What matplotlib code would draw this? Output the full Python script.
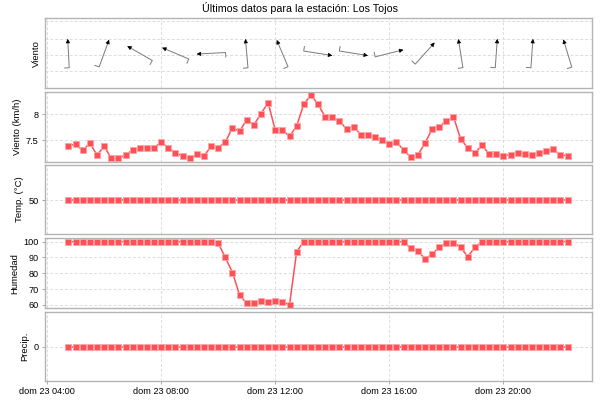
import numpy as np
import pandas as pd
import matplotlib
matplotlib.use("Agg")
import matplotlib.pyplot as plt
import matplotlib.dates as mdates
import matplotlib.transforms as mtransforms
from matplotlib.ticker import FuncFormatter

plt.rcParams["font.family"] = ["Liberation Sans", "DejaVu Sans"]

# readings every 15 min, Sunday 23
times = pd.date_range("2025-02-23 04:45", "2025-02-23 22:15", freq="15min")

wind_speed = [7.39, 7.42, 7.30, 7.44, 7.21, 7.38, 7.15, 7.15, 7.21, 7.31,
              7.35, 7.35, 7.35, 7.46, 7.35, 7.26, 7.19, 7.15, 7.23, 7.19,
              7.38, 7.35, 7.46, 7.74, 7.67, 7.89, 7.79, 8.01, 8.22, 7.69,
              7.69, 7.57, 7.77, 8.19, 8.37, 8.19, 7.95, 7.94, 7.87, 7.71,
              7.76, 7.60, 7.60, 7.56, 7.51, 7.42, 7.46, 7.31, 7.17, 7.21,
              7.44, 7.71, 7.76, 7.87, 7.95, 7.52, 7.35, 7.25, 7.40, 7.23,
              7.23, 7.20, 7.22, 7.26, 7.23, 7.21, 7.25, 7.29, 7.32, 7.21,
              7.20]

# direction the wind comes from (deg), one arrow every 5 readings
wind_dir = [177, 200, 120, 113, 87, 175, 157, 279, 279, 256, 222, 171, 184, 184, 163]

temperature = [50] * 71

humidity = [100] * 21 + [99, 90, 80.5, 66.3, 61, 61, 62.5, 62, 62.5, 62, 60, 93.7] \
    + [100] * 15 + [95.8, 94.3, 89, 92.2, 96.4, 99.4, 99.4, 96.4, 90.5, 96.4] \
    + [100] * 13

precip = [0] * 71

DIAS = ["lun", "mar", "mié", "jue", "vie", "sáb", "dom"]
RED = "#ff5055"


def fmt_date(x, pos=None):
    d = mdates.num2date(x)
    return "%s %02d %02d:%02d" % (DIAS[d.weekday()], d.day, d.hour, d.minute)


fig = plt.figure(figsize=(6, 4), dpi=100)
fig.text(0.5, 1 - 7.5 / 400, "Últimos datos para la estación: Los Tojos",
         ha="center", va="center", fontsize=7.7)

# panel rows in pixels (top, bottom)
rows = [(18.3, 88.3), (92.3, 161.7), (165, 234), (238.3, 308.3), (312.3, 381)]
left, right = 44.7 / 600, 592.3 / 600
axes = []
for i, (top, bot) in enumerate(rows):
    rect = [left, 1 - bot / 400, right - left, (bot - top) / 400]
    ax = fig.add_axes(rect, sharex=axes[0] if axes else None)
    axes.append(ax)

xmin = mdates.date2num(pd.Timestamp("2025-02-23 03:55"))
xmax = mdates.date2num(pd.Timestamp("2025-02-23 23:07"))

for ax in axes:
    for s in ax.spines.values():
        s.set_color("#b4b4b4")
        s.set_linewidth(1.0)
    ax.grid(True, color="#dcdcdc", linestyle=(0, (3, 2)), linewidth=0.7)
    ax.set_axisbelow(True)
    ax.tick_params(labelsize=6.6, length=2.5, color="#999999", width=0.6, pad=2)
    ax.tick_params(axis="x", bottom=False, labelbottom=False)

ax_w, ax_s, ax_t, ax_h, ax_p = axes

# wind direction arrows
ax_w.set_ylim(0, 1)
ax_w.set_yticks([0.247, 0.476, 0.704, 0.961])
ax_w.tick_params(axis="y", left=False, labelleft=False)
ax_w.set_xlim(xmin, xmax)
L = 0.145
for t, d in zip(times[::5], wind_dir):
    x = mdates.date2num(t)
    trans = fig.dpi_scale_trans + mtransforms.ScaledTranslation(x, 0.5, ax_w.transData)
    b = np.radians((d + 180) % 360)
    dx, dy = np.sin(b), np.cos(b)
    tx, ty = -L * dx, -L * dy
    hx, hy = L * dx, L * dy
    px, py = -dy * 0.05, dx * 0.05
    ax_w.plot([tx + px, tx, hx - 0.03 * dx], [ty + py, ty, hy - 0.03 * dy],
              transform=trans, color="#7a7a7a", lw=0.7, solid_capstyle="butt")
    ax_w.annotate("", xy=(hx, hy), xytext=(hx - 0.04 * dx, hy - 0.04 * dy),
                  xycoords=trans, textcoords=trans,
                  arrowprops=dict(arrowstyle="-|>", color="black", lw=0.5,
                                  shrinkA=0, shrinkB=0, mutation_scale=6))
ax_w.set_ylabel("Viento", fontsize=6.8, labelpad=3)

series = [(ax_s, wind_speed, "Viento (km/h)"),
          (ax_t, temperature, "Temp. (°C)"),
          (ax_h, humidity, "Humedad"),
          (ax_p, precip, "Precip.")]
for ax, vals, label in series:
    ax.plot(times, vals, color=RED, lw=1.1, marker="s", markersize=4.7,
            markeredgecolor="#ffa3a6", markeredgewidth=0.6)
    ax.set_ylabel(label, fontsize=6.8, labelpad=3)

ax_s.set_yticks([7.5, 8])
ax_s.yaxis.set_major_formatter(FuncFormatter(lambda v, p: "%g" % v))
ax_s.set_ylim(7.083, 8.42)
ax_t.set_yticks([50])
ax_t.set_ylim(49, 51.05)
ax_h.set_yticks([60, 70, 80, 90, 100])
ax_h.set_ylim(57.9, 102.1)
ax_p.set_yticks([0])
ax_p.set_ylim(-1, 1)

ax_p.xaxis.set_major_locator(mdates.HourLocator(byhour=[4, 8, 12, 16, 20]))
ax_p.xaxis.set_major_formatter(FuncFormatter(fmt_date))
ax_p.tick_params(axis="x", bottom=True, labelbottom=True)
ax_p.set_xlim(xmin, xmax)

fig.savefig("out.png", dpi=100)
